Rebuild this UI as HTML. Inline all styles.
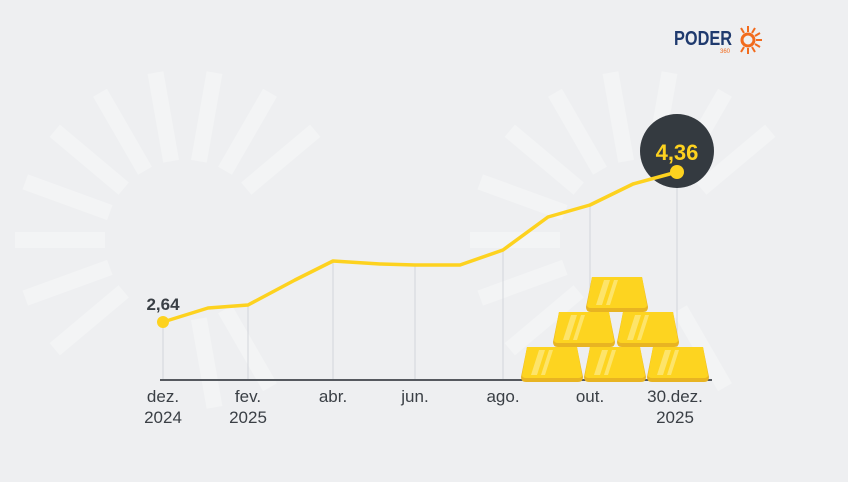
<!DOCTYPE html>
<html><head><meta charset="utf-8"><style>
body{margin:0;width:848px;height:477px;background:#eeeff1;overflow:hidden;font-family:"Liberation Sans",sans-serif}
</style></head><body>
<svg width="848" height="477" viewBox="0 0 848 477" xmlns="http://www.w3.org/2000/svg">
<defs>
<g id="ray"><rect x="-8" y="-170" width="16" height="90" fill="#f3f4f5"/></g>
<g id="bar">
<path d="M6 0 H56 L62 30 Q62 35 57 35 H5 Q0 35 0 30 Z" fill="#e8b422"/>
<path d="M6 0 H56 L61 28 Q61 31 57 31 H5 Q1 31 1 28 Z" fill="#fdd420"/>
<path d="M18 3 H24 L16 28 H10 Z M28 3 H32 L24 28 H20 Z" fill="#fde46a"/>
</g>
</defs>
<g transform="translate(185,240)">
<use href="#ray" transform="rotate(-90)"/><use href="#ray" transform="rotate(-70)"/><use href="#ray" transform="rotate(-50)"/><use href="#ray" transform="rotate(-30)"/><use href="#ray" transform="rotate(-10)"/><use href="#ray" transform="rotate(10)"/><use href="#ray" transform="rotate(30)"/><use href="#ray" transform="rotate(50)"/><use href="#ray" transform="rotate(-110)"/><use href="#ray" transform="rotate(-130)"/><use href="#ray" transform="rotate(150)"/><use href="#ray" transform="rotate(170)"/>
</g>
<g transform="translate(640,240)">
<use href="#ray" transform="rotate(-90)"/><use href="#ray" transform="rotate(-70)"/><use href="#ray" transform="rotate(-50)"/><use href="#ray" transform="rotate(-30)"/><use href="#ray" transform="rotate(-10)"/><use href="#ray" transform="rotate(10)"/><use href="#ray" transform="rotate(30)"/><use href="#ray" transform="rotate(50)"/><use href="#ray" transform="rotate(-110)"/><use href="#ray" transform="rotate(-130)"/><use href="#ray" transform="rotate(150)"/>
</g>
<g stroke="#d3d6da" stroke-width="1">
<line x1="163" y1="322" x2="163" y2="380"/><line x1="248" y1="305" x2="248" y2="380"/><line x1="333" y1="261" x2="333" y2="380"/><line x1="415" y1="265" x2="415" y2="380"/><line x1="503" y1="250" x2="503" y2="380"/><line x1="590" y1="205" x2="590" y2="380"/><line x1="677" y1="172" x2="677" y2="380"/>
</g>
<line x1="160" y1="380" x2="712" y2="380" stroke="#55595f" stroke-width="2"/>
<circle cx="677" cy="151" r="37" fill="#343a40"/>
<polyline points="163,322 208,308 248,305 295,280 333,261 380,264 415,265 460,265 503,250 548,217 590,205 633,184 677,172" fill="none" stroke="#fdd21f" stroke-width="3.5" stroke-linejoin="round"/>
<circle cx="163" cy="322" r="6" fill="#fdd21f"/>
<circle cx="677" cy="172" r="7" fill="#fdd21f"/>
<text x="677" y="160" text-anchor="middle" font-size="22" font-weight="bold" fill="#fdd21f">4,36</text>
<text x="163" y="310" text-anchor="middle" font-size="17" font-weight="bold" fill="#3a3f45">2,64</text>
<use href="#bar" x="586" y="277"/>
<use href="#bar" x="553" y="312"/><use href="#bar" x="617" y="312"/>
<use href="#bar" x="521" y="347"/><use href="#bar" x="584" y="347"/><use href="#bar" x="647" y="347"/>
<g font-size="17" fill="#3a3f45" text-anchor="middle">
<text x="163" y="402">dez.</text><text x="163" y="423">2024</text>
<text x="248" y="402">fev.</text><text x="248" y="423">2025</text>
<text x="333" y="402">abr.</text><text x="415" y="402">jun.</text><text x="503" y="402">ago.</text><text x="590" y="402">out.</text>
<text x="675" y="402">30.dez.</text><text x="675" y="423">2025</text>
</g>
<text x="674" y="45" font-size="20" font-weight="bold" fill="#1f3a6e" textLength="58" lengthAdjust="spacingAndGlyphs">PODER</text>
<text x="720" y="53" font-size="6" fill="#f26b1d">360</text>
<g transform="translate(748,40)" stroke="#f26b1d" stroke-width="2">
<circle r="6" fill="none" stroke-width="3"/>
<line x1="8" y1="0" x2="14" y2="0"/><line x1="7" y1="-4" x2="12" y2="-7"/><line x1="4" y1="-7" x2="7" y2="-12"/><line x1="0" y1="-8" x2="0" y2="-14"/><line x1="7" y1="4" x2="12" y2="7"/><line x1="4" y1="7" x2="7" y2="12"/><line x1="0" y1="8" x2="0" y2="14"/><line x1="-4" y1="-7" x2="-7" y2="-12"/><line x1="-4" y1="7" x2="-7" y2="12"/>
</g>
</svg>
</body></html>
